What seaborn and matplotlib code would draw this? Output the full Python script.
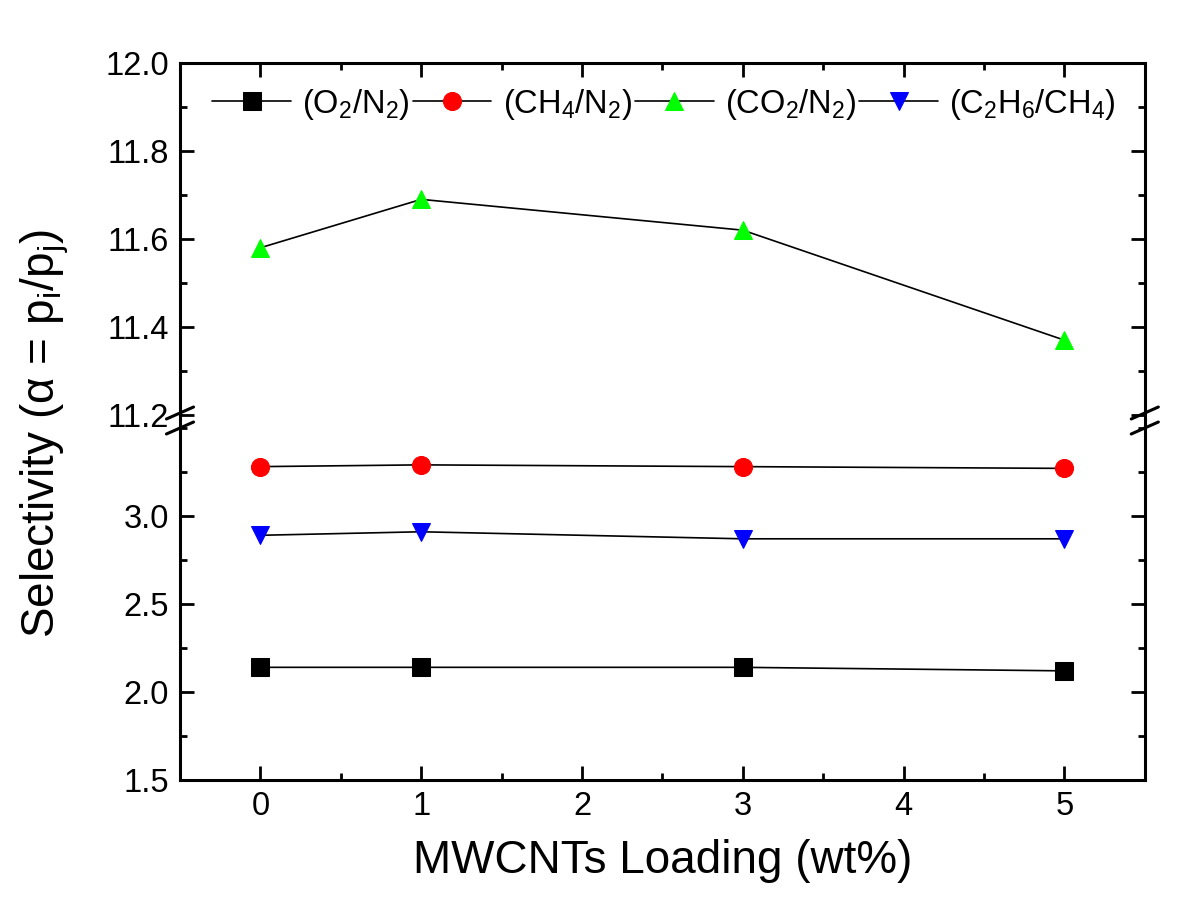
import numpy as np
import pandas as pd
import seaborn as sns
import matplotlib
matplotlib.use("Agg")
import matplotlib.pyplot as plt
from matplotlib.ticker import MultipleLocator

# Data
loading = [0, 1, 3, 5]
o2_n2 = [2.14, 2.14, 2.14, 2.12]
ch4_n2 = [3.28, 3.29, 3.28, 3.27]
co2_n2 = [11.58, 11.69, 11.62, 11.37]
c2h6_ch4 = [2.89, 2.91, 2.87, 2.87]

sns.set_style("ticks")
plt.rcParams["font.family"] = ["Liberation Sans", "DejaVu Sans"]
plt.rcParams["mathtext.fontset"] = "custom"
plt.rcParams["mathtext.rm"] = "Liberation Sans"
plt.rcParams["mathtext.it"] = "Liberation Sans"
plt.rcParams["mathtext.default"] = "regular"
for key in ("text.color", "axes.labelcolor", "xtick.color", "ytick.color",
            "axes.edgecolor"):
    plt.rcParams[key] = "black"

fig = plt.figure(figsize=(12, 9.22), dpi=100)
ax_top = fig.add_axes([0.15, 0.5445, 0.804, 0.3872])
ax_bot = fig.add_axes([0.15, 0.154, 0.804, 0.3905])

series = [
    ("(O$_2$/N$_2$)", o2_n2, "s", "black", ax_bot),
    ("(CH$_4$/N$_2$)", ch4_n2, "o", "red", ax_bot),
    ("(CO$_2$/N$_2$)", co2_n2, "^", "#00ff00", ax_top),
    ("(C$_2$H$_6$/CH$_4$)", c2h6_ch4, "v", "blue", ax_bot),
]

handles = []
for label, vals, mk, col, ax in series:
    df = pd.DataFrame({"x": loading, "y": vals})
    sns.lineplot(data=df, x="x", y="y", ax=ax, color="black", linewidth=1.2,
                 marker=mk, markersize=13, markerfacecolor=col,
                 markeredgecolor=col, label=label, legend=False)
    handles.append(ax.get_lines()[-1])

# axes limits
ax_top.set_ylim(11.1886, 12.0)
ax_bot.set_ylim(1.5, 3.545)
for ax in (ax_top, ax_bot):
    ax.set_xlim(-0.5, 5.5)
    ax.xaxis.set_major_locator(MultipleLocator(1))
    ax.xaxis.set_minor_locator(MultipleLocator(0.5))
    for s in ax.spines.values():
        s.set_linewidth(2.2)
    ax.tick_params(which="both", direction="in", left=True, right=True,
                   width=2, labelsize=23.5, pad=8)
    ax.tick_params(which="major", length=10)
    ax.tick_params(which="minor", length=5)
    ax.set_xlabel("")
    ax.set_ylabel("")

ax_top.set_yticks([11.2, 11.4, 11.6, 11.8, 12.0])
ax_top.yaxis.set_minor_locator(MultipleLocator(0.1))
ax_top.yaxis.set_major_formatter(plt.FormatStrFormatter("%.1f"))
ax_top.spines["bottom"].set_visible(False)
ax_top.tick_params(which="both", bottom=False, labelbottom=False, top=True)

ax_bot.set_yticks([1.5, 2.0, 2.5, 3.0])
ax_bot.yaxis.set_minor_locator(MultipleLocator(0.25))
ax_bot.yaxis.set_major_formatter(plt.FormatStrFormatter("%.1f"))
ax_bot.spines["top"].set_visible(False)
ax_bot.tick_params(which="both", top=False, bottom=True)

ax_bot.set_xlabel("MWCNTs Loading (wt%)", fontsize=33, labelpad=12)
fig.text(0.037, 1 - 433 / 922, r"Selectivity ($\alpha$ = p$_i$/p$_j$)",
         rotation=90, fontsize=33, ha="center", va="center")

# break marks on both vertical spines
for xf in (0.15, 0.954):
    for yp in (413, 428):
        yf = 1 - yp / 922
        fig.add_artist(plt.Line2D([xf - 0.0113, xf + 0.0113],
                                  [yf - 0.0065, yf + 0.0065],
                                  color="black", linewidth=2.2))

ax_top.legend(handles=handles, labels=[s[0] for s in series], loc="upper left",
              bbox_to_anchor=(0.02, 0.97), ncol=4, frameon=False,
              fontsize=23.5, handlelength=2.4, handletextpad=0.35,
              columnspacing=0.1, borderaxespad=0)

fig.savefig("out.png", dpi=100)
